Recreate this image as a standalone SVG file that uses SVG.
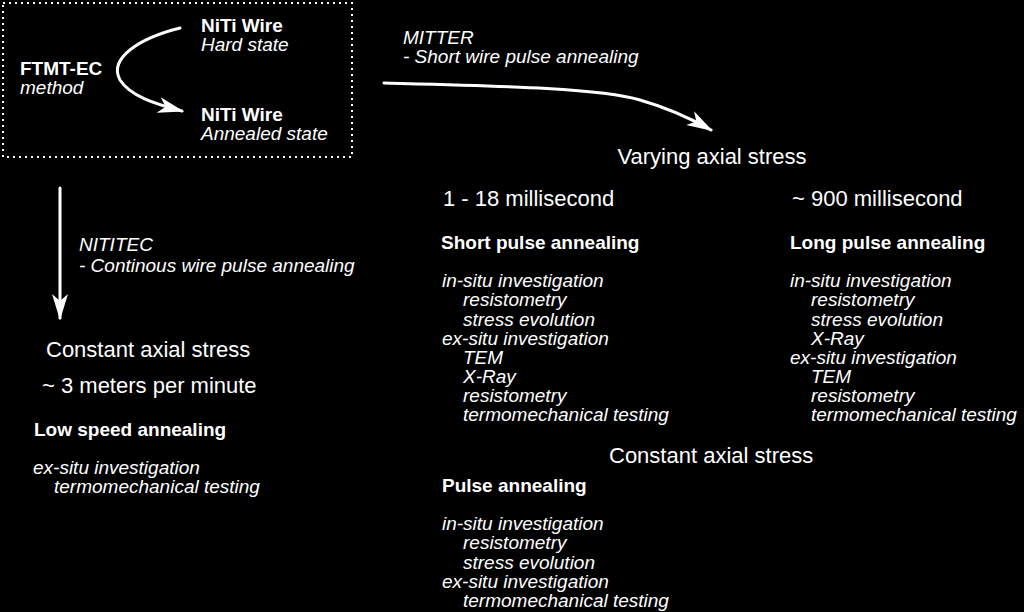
<svg xmlns="http://www.w3.org/2000/svg" width="1024" height="612" viewBox="0 0 1024 612">
<defs>
<marker id="ahb" markerWidth="26" markerHeight="16" refX="24" refY="8" orient="auto" markerUnits="userSpaceOnUse" viewBox="0 0 26 16">
<path d="M0,0 L26,8 L0,16 L7,8 z" fill="#fff"/>
</marker>
<style>
text{fill:#fff;font-family:"Liberation Sans",Arial,sans-serif}
.h{font-size:22px}
.b{font-size:19px;font-weight:bold}
.i{font-size:19px;font-style:italic}
.c{fill:none;stroke:#fff;stroke-width:3;stroke-linecap:round}
</style>
</defs>
<rect width="1024" height="612" fill="#000"/>
<g id="box">
<rect x="3" y="3" width="349" height="154" fill="none" stroke="#fff" stroke-width="2" stroke-dasharray="2 4"/>
<text class="b" x="201" y="32">NiTi Wire</text>
<text class="i" x="201" y="51">Hard state</text>
<text class="b" x="20" y="75">FTMT-EC</text>
<text class="i" x="20" y="94">method</text>
<text class="b" x="201" y="121">NiTi Wire</text>
<text class="i" x="201" y="140">Annealed state</text>
</g>
<g id="connectors">
<path class="c" d="M180,28 C140,38 108,58 120,80 C130,96 155,104 182,111" marker-end="url(#ahb)"/>
<path class="c" d="M384,83 C500,86 600,88 640,100 C668,108 690,118 711,130" marker-end="url(#ahb)"/>
<path class="c" d="M60,188 L60,318" marker-end="url(#ahb)"/>
</g>
<g id="label-mitter">
<text class="i" x="403" y="44">MITTER</text>
<text class="i" x="403" y="63">- Short wire pulse annealing</text>
</g>
<g id="label-nititec">
<text class="i" x="79" y="251">NITITEC</text>
<text class="i" x="79" y="272">- Continous wire pulse annealing</text>
</g>
<g id="varying">
<text class="h" x="712" y="164" text-anchor="middle">Varying axial stress</text>
</g>
<g id="short">
<text class="h" x="443" y="206">1 - 18 millisecond</text>
<text class="b" x="441" y="249">Short pulse annealing</text>
<text class="i" x="442" y="287">in-situ investigation</text>
<text class="i" x="463" y="306">resistometry</text>
<text class="i" x="463" y="326">stress evolution</text>
<text class="i" x="442" y="345">ex-situ investigation</text>
<text class="i" x="463" y="364">TEM</text>
<text class="i" x="463" y="383">X-Ray</text>
<text class="i" x="463" y="402">resistometry</text>
<text class="i" x="463" y="421">termomechanical testing</text>
</g>
<g id="long">
<text class="h" x="792" y="206">~ 900 millisecond</text>
<text class="b" x="790" y="249">Long pulse annealing</text>
<text class="i" x="790" y="287">in-situ investigation</text>
<text class="i" x="811" y="306">resistometry</text>
<text class="i" x="811" y="326">stress evolution</text>
<text class="i" x="811" y="345">X-Ray</text>
<text class="i" x="790" y="364">ex-situ investigation</text>
<text class="i" x="811" y="383">TEM</text>
<text class="i" x="811" y="402">resistometry</text>
<text class="i" x="811" y="421">termomechanical testing</text>
</g>
<g id="constant-right">
<text class="h" x="609" y="463">Constant axial stress</text>
<text class="b" x="442" y="492">Pulse annealing</text>
<text class="i" x="442" y="530">in-situ investigation</text>
<text class="i" x="463" y="549">resistometry</text>
<text class="i" x="463" y="569">stress evolution</text>
<text class="i" x="442" y="588">ex-situ investigation</text>
<text class="i" x="463" y="607">termomechanical testing</text>
</g>
<g id="constant-left">
<text class="h" x="46" y="357">Constant axial stress</text>
<text class="h" x="42" y="393">~ 3 meters per minute</text>
<text class="b" x="34" y="436">Low speed annealing</text>
<text class="i" x="33" y="474">ex-situ investigation</text>
<text class="i" x="54" y="493">termomechanical testing</text>
</g>
</svg>
